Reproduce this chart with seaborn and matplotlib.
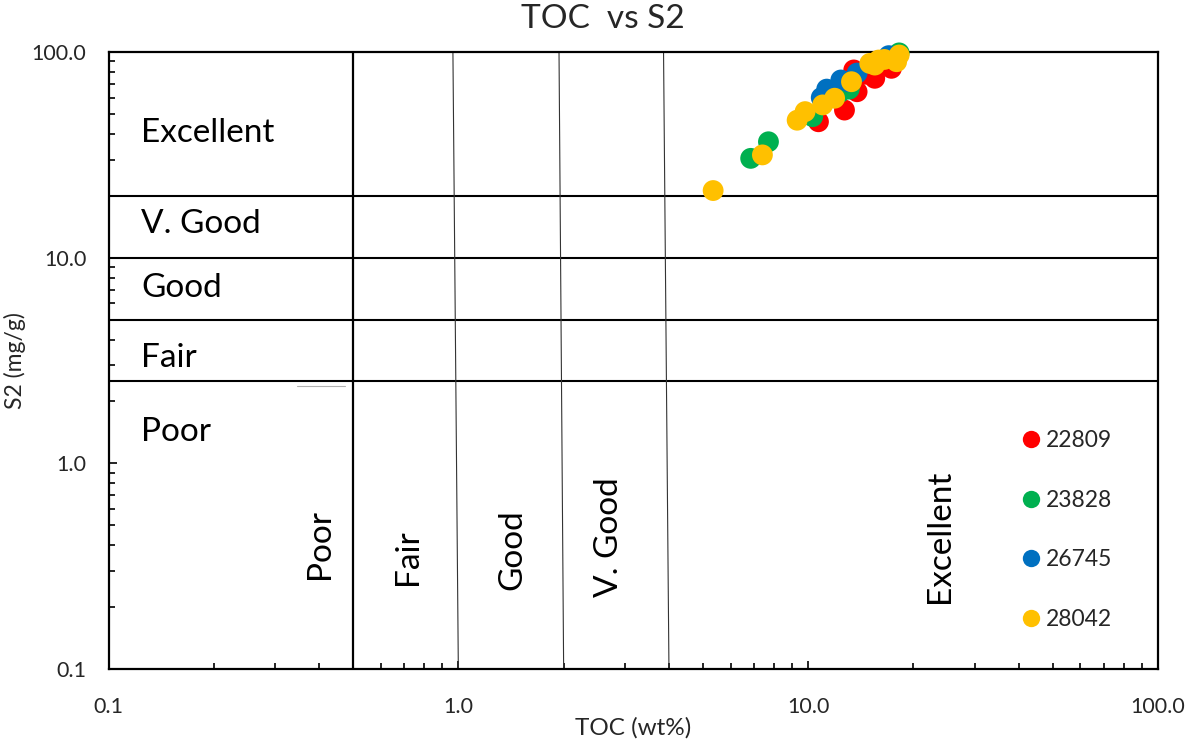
import numpy as np
import pandas as pd
import matplotlib
matplotlib.use("Agg")
import matplotlib.pyplot as plt
from matplotlib.lines import Line2D
from matplotlib.ticker import FixedLocator, FuncFormatter, LogLocator
import seaborn as sns

# ---------------- data ----------------
wells = ["22809", "23828", "26745", "28042"]
colors = ["#FF0000", "#00B050", "#0070C0", "#FFC000"]

toc_22809 = [10.7, 12.7, 13.8, 13.5, 15.5, 17.3, 14.6]
s2_22809 = [45.8, 52.2, 64.1, 81.8, 74.5, 83.3, 78.0]

toc_23828 = [6.85, 7.7, 10.3, 12.3, 13.1, 18.2]
s2_23828 = [30.4, 36.6, 48.5, 63.5, 66.0, 99.0]

toc_26745 = [10.9, 11.3, 12.4, 13.0, 13.8, 17.0]
s2_26745 = [60.0, 66.0, 73.1, 71.7, 79.0, 96.0]

toc_28042 = [5.35, 7.4, 9.3, 9.8, 11.0, 11.9, 13.3, 15.0, 15.5, 15.9, 16.5, 17.9, 18.2]
s2_28042 = [21.2, 31.6, 46.6, 51.3, 55.3, 59.6, 71.7, 88.0, 86.4, 91.4, 92.0, 89.7, 96.7]

# classification boundaries
s2_bounds = [20, 10, 5, 2.5]
s2_classes = ["Excellent", "V. Good", "Good", "Fair", "Poor"]
toc_bounds_bottom = [0.5, 1.0, 2.0, 4.0]
toc_bounds_top = [0.5, 0.965, 1.94, 3.86]
toc_classes = ["Poor", "Fair", "Good", "V. Good", "Excellent"]

x_ticks = [0.1, 1.0, 10.0, 100.0]
y_ticks = [0.1, 1.0, 10.0, 100.0]

df = pd.concat([
    pd.DataFrame({"TOC": toc_22809, "S2": s2_22809, "Well": wells[0]}),
    pd.DataFrame({"TOC": toc_23828, "S2": s2_23828, "Well": wells[1]}),
    pd.DataFrame({"TOC": toc_26745, "S2": s2_26745, "Well": wells[2]}),
    pd.DataFrame({"TOC": toc_28042, "S2": s2_28042, "Well": wells[3]}),
], ignore_index=True)

# ---------------- style ----------------
sns.set_theme(style="white")
plt.rcParams["font.family"] = ["Lato", "DejaVu Sans"]

W, H = 1193, 744
fig = plt.figure(figsize=(W / 100, H / 100), dpi=100)
ax = fig.add_axes([108.5 / W, 1 - 669 / H, (1158 - 108.5) / W, (669 - 52) / H])

ax.set_xscale("log")
ax.set_yscale("log")
ax.set_xlim(0.1, 100)
ax.set_ylim(0.1, 100)

# boundary lines
for yb in s2_bounds:
    ax.plot([0.1, 100], [yb, yb], color="black", lw=1.5, zorder=1)
for xt, xb in zip(toc_bounds_top, toc_bounds_bottom):
    lw = 1.6 if xb == 0.5 else 0.8
    col = "black" if xb == 0.5 else "#333333"
    ax.plot([xb, xt], [0.1, 100], color=col, lw=lw, zorder=1)
ax.plot([0.346, 0.474], [2.38, 2.38], color="#b0b0b0", lw=0.8, zorder=1)

sns.scatterplot(data=df, x="TOC", y="S2", hue="Well", palette=dict(zip(wells, colors)),
                s=225, edgecolor="none", linewidth=0, legend=False, ax=ax, zorder=3,
                clip_on=False)

# class labels (horizontal, S2)
s2_label_y = [36.6, 13.2, 6.44, 2.94, 1.28]
for lab, yy in zip(s2_classes, s2_label_y):
    ax.text(0.124, yy, lab, fontsize=24, va="baseline", ha="left", color="black")

# class labels (vertical, TOC)
toc_label_x = [0.402, 0.718, 1.43, 2.69, 23.8]
toc_label_y = [0.274, 0.257, 0.243, 0.224, 0.209]
for lab, xx, yy in zip(toc_classes, toc_label_x, toc_label_y):
    ax.text(xx, yy, lab, fontsize=24, rotation=90, ha="center", va="bottom", color="black")

# ticks
fmt = FuncFormatter(lambda v, p: f"{v:.1f}")
ax.xaxis.set_major_locator(FixedLocator(x_ticks))
ax.yaxis.set_major_locator(FixedLocator(y_ticks))
ax.xaxis.set_major_formatter(fmt)
ax.yaxis.set_major_formatter(fmt)
ax.xaxis.set_minor_locator(LogLocator(base=10, subs=np.arange(2, 10)))
ax.yaxis.set_minor_locator(LogLocator(base=10, subs=np.arange(2, 10)))
ax.xaxis.set_minor_formatter(plt.NullFormatter())
ax.yaxis.set_minor_formatter(plt.NullFormatter())
ax.tick_params(axis="both", which="both", direction="in", color="black", width=1.2)
ax.tick_params(axis="both", which="major", length=6)
ax.tick_params(axis="both", which="minor", length=4)
ax.tick_params(axis="x", which="major", pad=20, labelsize=15.5)
ax.tick_params(axis="y", which="major", pad=16, labelsize=15.5)
ax.tick_params(axis="both", which="both", top=False, right=False, bottom=True, left=True)

for sp in ax.spines.values():
    sp.set_visible(True)
    sp.set_color("black")
    sp.set_linewidth(1.6)

ax.set_xlabel("TOC (wt%)", fontsize=17.5, labelpad=0)
ax.set_ylabel("S2 (mg/g)", fontsize=16.5, labelpad=4)
fig.suptitle("TOC  vs S2", fontsize=24, x=0.505, y=0.995, va="top")

# legend
handles = [Line2D([], [], marker="o", linestyle="none", markersize=12.5,
                  markerfacecolor=c, markeredgecolor="none") for c in colors]
ax.legend(handles, wells, loc="center left",
          bbox_to_anchor=(1022 / W, 1 - 530 / H), bbox_transform=fig.transFigure,
          frameon=False, fontsize=16.5, handlelength=0.8, handletextpad=0.25,
          labelspacing=1.7, borderpad=0, borderaxespad=0)

fig.savefig("out.png", dpi=100)
